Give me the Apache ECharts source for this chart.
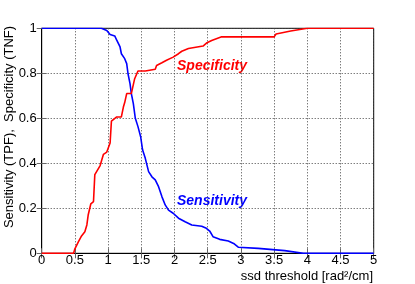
<!DOCTYPE html>
<html>
<head>
<meta charset="utf-8">
<script src="https://cdn.jsdelivr.net/npm/echarts@6/dist/echarts.min.js"></script>
<style>
html,body{margin:0;padding:0;background:#fff;}
#c{width:415px;height:284px;}
</style>
</head>
<body>
<div id="c"></div>
<script>
const specX = [0, 0.48, 0.5, 0.55, 0.6, 0.65, 0.68, 0.70, 0.74, 0.78, 0.80, 0.83, 0.88, 0.90, 0.93, 0.98, 1.03, 1.05, 1.13, 1.20, 1.23, 1.25, 1.28, 1.35, 1.40, 1.45, 1.56, 1.58, 1.71, 1.73, 1.81, 1.88, 1.98, 2.06, 2.11, 2.21, 2.43, 2.49, 2.56, 2.71, 3.50, 3.53, 3.75, 4.0, 5.0];
const specY = [0, 0, 0.02, 0.05, 0.077, 0.096, 0.126, 0.17, 0.22, 0.23, 0.35, 0.356, 0.39, 0.41, 0.44, 0.45, 0.49, 0.587, 0.606, 0.606, 0.65, 0.67, 0.71, 0.71, 0.776, 0.81, 0.81, 0.816, 0.818, 0.835, 0.847, 0.858, 0.872, 0.887, 0.898, 0.91, 0.921, 0.936, 0.946, 0.962, 0.962, 0.975, 0.988, 1.0, 1.0];
const sensX = [0, 0.90, 0.98, 1.03, 1.10, 1.13, 1.18, 1.20, 1.25, 1.28, 1.30, 1.33, 1.35, 1.38, 1.41, 1.45, 1.49, 1.52, 1.56, 1.61, 1.66, 1.71, 1.76, 1.81, 1.86, 1.91, 1.98, 2.06, 2.16, 2.26, 2.41, 2.48, 2.53, 2.58, 2.68, 2.81, 2.89, 2.96, 3.26, 3.66, 3.94, 5.0];
const sensY = [1, 1, 0.99, 0.972, 0.966, 0.947, 0.917, 0.887, 0.865, 0.843, 0.798, 0.754, 0.71, 0.665, 0.6, 0.563, 0.518, 0.459, 0.422, 0.363, 0.34, 0.326, 0.296, 0.252, 0.215, 0.192, 0.178, 0.156, 0.14, 0.126, 0.12, 0.111, 0.099, 0.074, 0.062, 0.055, 0.044, 0.027, 0.022, 0.012, 0, 0];
const xTicks = [0, 0.5, 1, 1.5, 2, 2.5, 3, 3.5, 4, 4.5, 5];
const yTicks = [0, 0.2, 0.4, 0.6, 0.8, 1];
const seriesNames = ['Specificity', 'Sensitivity'];
const xTitle = 'ssd threshold [rad²/cm]';
const yTitle = 'Sensitivity (TPF),  Specificity (TNF)';

const font = '"Liberation Sans", Arial, sans-serif';
const chart = echarts.init(document.getElementById('c'), null, {renderer: 'canvas'});
const gridLine = {show: true, lineStyle: {color: '#444', type: [1, 2], width: 1}};
const tickIn = {show: true, inside: true, length: 5, lineStyle: {color: '#666', width: 1}};
const zip = (a, b) => a.map((v, i) => [v, b[i]]);

chart.setOption({
  animation: false,
  backgroundColor: '#fff',
  grid: {left: 41.7, right: 41.3, top: 28.3, bottom: 30.7, show: true, borderColor: '#000', borderWidth: 1, backgroundColor: 'transparent'},
  xAxis: [{
    type: 'value', min: 0, max: 5, interval: 0.5,
    axisLine: {show: true, onZero: false, lineStyle: {color: '#000', width: 1}},
    axisTick: tickIn,
    splitLine: gridLine,
    axisLabel: {color: '#000', fontSize: 13, fontFamily: font, margin: 1,
      formatter: v => xTicks.includes(v) ? String(v) : ''}
  }, {
    type: 'value', min: 0, max: 5, interval: 0.5, position: 'top',
    axisLine: {show: false}, axisTick: tickIn, splitLine: {show: false}, axisLabel: {show: false}
  }],
  yAxis: [{
    type: 'value', min: 0, max: 1, interval: 0.2,
    axisLine: {show: true, onZero: false, lineStyle: {color: '#000', width: 1}},
    axisTick: tickIn,
    splitLine: gridLine,
    axisLabel: {color: '#000', fontSize: 13, fontFamily: font, margin: 5,
      formatter: v => { const t = yTicks.find(k => Math.abs(k - v) < 1e-9); return t === undefined ? '' : String(t); }}
  }, {
    type: 'value', min: 0, max: 1, interval: 0.2, position: 'right',
    axisLine: {show: false}, axisTick: tickIn, splitLine: {show: false}, axisLabel: {show: false}
  }],
  series: [{
    name: seriesNames[0], type: 'line', data: zip(specX, specY), showSymbol: false,
    lineStyle: {color: '#ff0000', width: 1.6}, z: 5
  }, {
    name: seriesNames[1], type: 'line', data: zip(sensX, sensY), showSymbol: false,
    lineStyle: {color: '#0000ff', width: 1.6}, z: 4
  }],
  graphic: [
    {type: 'text', x: 177, y: 66, style: {text: seriesNames[0], fill: '#ff0000', font: 'italic bold 14px ' + font, textVerticalAlign: 'middle', textAlign: 'left'}},
    {type: 'text', x: 177, y: 201, style: {text: seriesNames[1], fill: '#0000ff', font: 'italic bold 14px ' + font, textVerticalAlign: 'middle', textAlign: 'left'}},
    {type: 'text', x: 373, y: 276, style: {text: xTitle, fill: '#000', font: '13px ' + font, textVerticalAlign: 'middle', textAlign: 'right'}},
    {type: 'text', x: 9.5, y: 127, rotation: Math.PI / 2, style: {text: yTitle, fill: '#000', font: '13px ' + font, textVerticalAlign: 'middle', textAlign: 'center'}}
  ]
});
</script>
</body>
</html>
